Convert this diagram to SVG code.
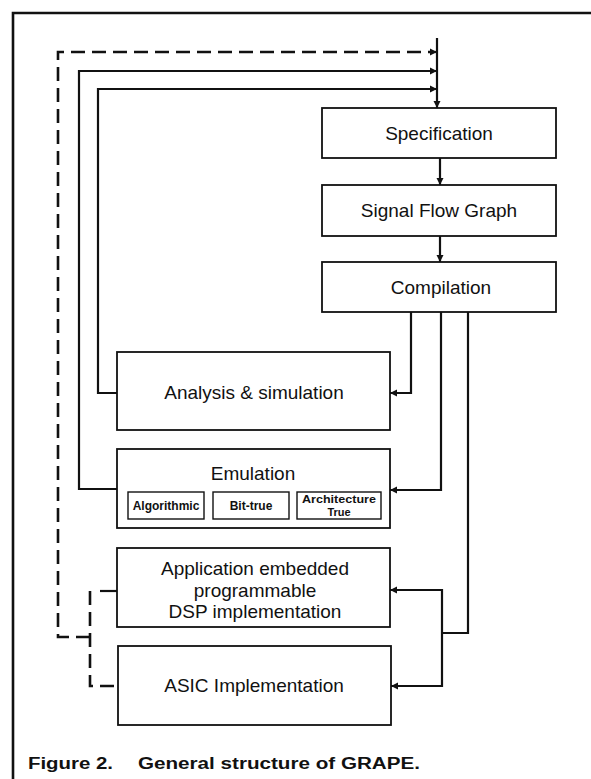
<svg xmlns="http://www.w3.org/2000/svg" width="591" height="779" viewBox="0 0 591 779">
<style>
.box{fill:#fff;stroke:#111;stroke-width:1.8}
.sub{fill:#fff;stroke:#111;stroke-width:1.4}
.lbl{font-family:"Liberation Sans",Arial,sans-serif;font-size:19px;fill:#111;text-anchor:middle}
.sl{font-family:"Liberation Sans",Arial,sans-serif;font-size:12px;font-weight:bold;fill:#111;text-anchor:middle}
.sl2{font-family:"Liberation Sans",Arial,sans-serif;font-size:11px;font-weight:bold;fill:#111;text-anchor:middle}
.cap{font-family:"Liberation Sans",Arial,sans-serif;font-size:16px;font-weight:bold;fill:#111}
.c{fill:none;stroke:#111;stroke-width:2.2}
.d{fill:none;stroke:#111;stroke-width:2.6;stroke-dasharray:14 7}
</style>
<defs>
<marker id="ah" markerUnits="userSpaceOnUse" markerWidth="8" markerHeight="8" refX="7" refY="4" orient="auto">
<path d="M0,0.5 L7,4 L0,7.5 z" fill="#111"/>
</marker>
</defs>
<rect width="591" height="779" fill="#fff"/>
<g id="frame">
<path d="M13,779 V13 H591" fill="none" stroke="#111" stroke-width="2.6"/>
</g>
<g id="connectors">
<path class="c" d="M437,38 V108" marker-end="url(#ah)"/>
<path class="d" d="M90,637 H58 V52 H431"/>
<path class="c" d="M431,52 H437" marker-end="url(#ah)"/>
<path class="c" d="M117,489 H79 V71 H437" marker-end="url(#ah)"/>
<path class="c" d="M117,393 H98 V89 H437" marker-end="url(#ah)"/>
<path class="c" d="M440,158 V185" marker-end="url(#ah)"/>
<path class="c" d="M440,236 V262" marker-end="url(#ah)"/>
<path class="c" d="M411,312 V393 H390" marker-end="url(#ah)"/>
<path class="c" d="M441,312 V490 H390" marker-end="url(#ah)"/>
<path class="c" d="M468,312 V633 H442"/>
<path class="c" d="M442,590 H390" marker-end="url(#ah)"/>
<path class="c" d="M442,589 V686 H391" marker-end="url(#ah)"/>
<path class="c" d="M117,591 H100"/>
<path class="d" d="M90,591 V686 H117"/>
</g>
<g id="spec">
<rect class="box" x="322" y="108" width="234" height="50"/>
<text class="lbl" x="439" y="140">Specification</text>
</g>
<g id="sfg">
<rect class="box" x="322" y="185" width="234" height="51"/>
<text class="lbl" x="439" y="217">Signal Flow Graph</text>
</g>
<g id="compilation">
<rect class="box" x="322" y="262" width="234" height="50"/>
<text class="lbl" x="441" y="294">Compilation</text>
</g>
<g id="analysis">
<rect class="box" x="117" y="352" width="273" height="78"/>
<text class="lbl" x="254" y="399">Analysis &amp; simulation</text>
</g>
<g id="emulation">
<rect class="box" x="117" y="449" width="273" height="79"/>
<text class="lbl" x="253" y="480">Emulation</text>
<rect class="sub" x="128" y="492" width="76" height="27"/>
<text class="sl" x="166" y="510">Algorithmic</text>
<rect class="sub" x="213" y="492" width="76" height="27"/>
<text class="sl" x="251" y="510">Bit-true</text>
<rect class="sub" x="297" y="492" width="84" height="27"/>
<text class="sl2" x="339" y="503" textLength="74" lengthAdjust="spacingAndGlyphs">Architecture</text>
<text class="sl2" x="339" y="516">True</text>
</g>
<g id="application">
<rect class="box" x="117" y="548" width="273" height="79"/>
<text class="lbl" x="255" y="575">Application embedded</text>
<text class="lbl" x="255" y="597">programmable</text>
<text class="lbl" x="255" y="618">DSP implementation</text>
</g>
<g id="asic">
<rect class="box" x="118" y="646" width="273" height="79"/>
<text class="lbl" x="254" y="692">ASIC Implementation</text>
</g>
<g id="caption">
<text class="cap" x="28" y="769" textLength="85" lengthAdjust="spacingAndGlyphs">Figure 2.</text>
<text class="cap" x="138" y="769" textLength="282" lengthAdjust="spacingAndGlyphs">General structure of GRAPE.</text>
</g>
</svg>
